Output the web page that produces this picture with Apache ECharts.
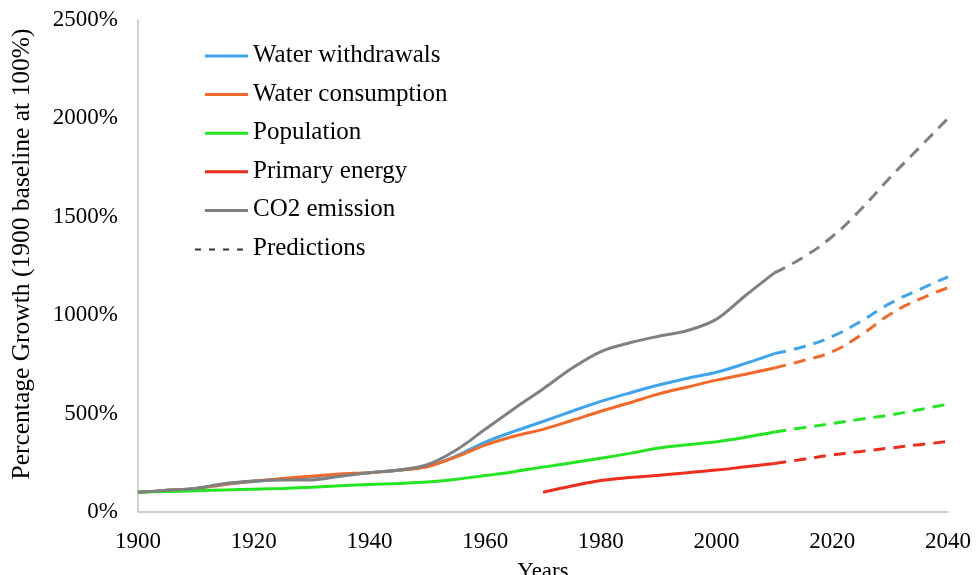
<!DOCTYPE html>
<html>
<head>
<meta charset="utf-8">
<script src="https://cdn.jsdelivr.net/npm/echarts@6/dist/echarts.min.js"></script>
<style>html,body{margin:0;padding:0;background:#fff}#c{width:977px;height:575px}</style>
</head>
<body>
<div id="c"></div>
<script>
// Historical years (5-year steps)
var years = [1900,1905,1910,1915,1920,1925,1930,1935,1940,1945,1950,1955,1960,1965,1970,1975,1980,1985,1990,1995,2000,2005,2010];
var withdrawals = [100,110,120,140,155,168,178,190,200,212,232,285,355,410,460,512,562,605,645,680,710,755,805];
var consumption = [100,110,120,140,157,170,182,193,200,212,230,280,340,385,420,465,512,555,600,635,670,700,732];
var population  = [100,104,108,112,116,120,126,133,140,145,152,166,185,205,228,250,273,298,325,342,357,380,407];
var energyYears = [1970,1975,1980,1985,1990,1995,2000,2005,2010];
var energy      = [100,132,160,175,187,200,213,230,246];
var co2         = [100,110,120,145,158,163,163,182,200,213,240,315,420,525,625,730,815,860,893,922,980,1100,1215];
// Predictions
var predYears = [2010,2015,2020,2025,2030,2035,2040];
var predWithdrawals = [805,840,892,970,1060,1130,1195];
var predConsumption = [732,770,815,900,1005,1080,1140];
var predPopulation  = [407,428,450,472,493,520,548];
var predEnergy      = [246,268,290,308,325,342,358];
var predCo2         = [1215,1295,1400,1540,1700,1850,2000];
var yTicks = [0,500,1000,1500,2000,2500];
var xTicks = [1900,1920,1940,1960,1980,2000,2020,2040];

function pairs(xs, ys){ return xs.map(function(x,i){ return [x, ys[i]]; }); }

var colors = {
  'Water withdrawals':'#3FA4EC',
  'Water consumption':'#F2692A',
  'Population':'#22E61F',
  'Primary energy':'#EE2E1A',
  'CO2 emission':'#808080'
};
var font = 'Liberation Serif';

function solid(name, xs, ys){
  return {name:name, type:'line', data:pairs(xs,ys), smooth:0.35, symbol:'none',
    lineStyle:{width:3, color:colors[name]}, itemStyle:{color:colors[name]}, z:3};
}
function dashed(name, xs, ys){
  return {name:name, type:'line', data:pairs(xs,ys), smooth:0.5, symbol:'none',
    lineStyle:{width:3, color:colors[name], type:[12,8]}, itemStyle:{color:colors[name]}, z:2};
}

var corners = 'M0,0 L0.01,0 L0.01,0.01 Z M53,24 L52.99,24 L52.99,23.99 Z ';
var solidIcon = 'path://' + corners + 'M10,11 L53,11 L53,14 L10,14 Z';
var dashIcon = 'path://' + corners + 'M0,12 L6,12 L6,14 L0,14 Z M14,12 L20,12 L20,14 L14,14 Z M28,12 L34,12 L34,14 L28,14 Z M42,12 L48,12 L48,14 L42,14 Z';

var chart = echarts.init(document.getElementById('c'), null, {renderer:'canvas'});
chart.setOption({
  animation:false,
  backgroundColor:'#fff',
  grid:{left:138, right:29, top:20, bottom:63, containLabel:false, outerBoundsMode:'none'},
  legend:{
    orient:'vertical', left:195, top:43, padding:0, itemWidth:53, itemHeight:24, itemGap:13.6,
    textStyle:{fontFamily:font, fontSize:25, lineHeight:24, color:'#000'},
    data:[
      {name:'Water withdrawals', icon:solidIcon},
      {name:'Water consumption', icon:solidIcon},
      {name:'Population', icon:solidIcon},
      {name:'Primary energy', icon:solidIcon},
      {name:'CO2 emission', icon:solidIcon},
      {name:'Predictions', icon:dashIcon}
    ]
  },
  xAxis:{
    type:'value', min:1900, max:2040, interval:20,
    name:'Years', nameLocation:'middle', nameGap:48,
    nameTextStyle:{fontFamily:font, fontSize:23, color:'#000'},
    axisLine:{show:true, lineStyle:{color:'#BFBFBF', width:1.5}},
    axisTick:{show:false}, splitLine:{show:false},
    axisLabel:{fontFamily:font, fontSize:23, color:'#000', margin:18, customValues:xTicks,
      formatter:function(v){ return String(v); }}
  },
  yAxis:{
    type:'value', min:0, max:2500, interval:500,
    name:'Percentage Growth (1900 baseline at 100%)', nameLocation:'middle', nameGap:103,
    nameTextStyle:{fontFamily:font, fontSize:25.5, color:'#000', padding:[0,0,0,24]},
    axisLine:{show:true, lineStyle:{color:'#BFBFBF', width:1.5}},
    axisTick:{show:false}, splitLine:{show:false},
    axisLabel:{fontFamily:font, fontSize:23, color:'#000', margin:20, customValues:yTicks,
      formatter:function(v){ return v + '%'; }}
  },
  series:[
    solid('Water withdrawals', years, withdrawals),
    solid('Water consumption', years, consumption),
    solid('Population', years, population),
    solid('Primary energy', energyYears, energy),
    solid('CO2 emission', years, co2),
    dashed('Water withdrawals', predYears, predWithdrawals),
    dashed('Water consumption', predYears, predConsumption),
    dashed('Population', predYears, predPopulation),
    dashed('Primary energy', predYears, predEnergy),
    dashed('CO2 emission', predYears, predCo2),
    {name:'Predictions', type:'line', data:[], symbol:'none', itemStyle:{color:'#333'}, lineStyle:{color:'#333', type:'dashed'}}
  ]
});
</script>
</body>
</html>
